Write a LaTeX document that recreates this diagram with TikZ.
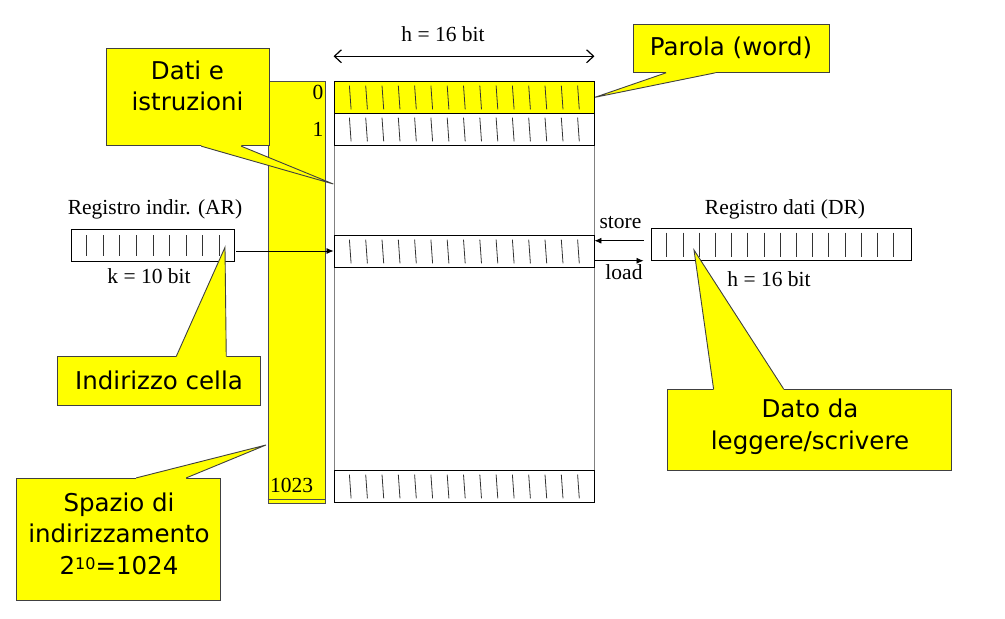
\documentclass[tikz,border=0pt]{standalone}
\usepackage{fontspec}
\setmainfont{Liberation Serif}
\newfontfamily\callfont{DejaVu Sans}
\usetikzlibrary{calc,arrows.meta}
\definecolor{cyel}{RGB}{255,255,0}
\newcommand\calloutptr[4]{%
  \fill[cyel] ($(#1.south west)+(#2,-1.5)$) -- ($(#1.south west)+(#2,0)$) -- (#4) -- ($(#1.south west)+(#3,0)$) -- ($(#1.south west)+(#3,-1.5)$) -- cycle;
  \draw[ptr] ($(#1.south west)+(#2,0)$) -- (#4) -- ($(#1.south west)+(#3,0)$);}
\newcommand\calloutptrup[4]{%
  \fill[cyel] ($(#1.north west)+(#2,1.5)$) -- ($(#1.north west)+(#2,0)$) -- (#4) -- ($(#1.north west)+(#3,0)$) -- ($(#1.north west)+(#3,1.5)$) -- cycle;
  \draw[ptr] ($(#1.north west)+(#2,0)$) -- (#4) -- ($(#1.north west)+(#3,0)$);}
\begin{document}
\begin{tikzpicture}[x=1pt,y=-1pt,
  reg/.style={draw=black, line width=0.9pt, inner sep=0pt, minimum height=32pt},
  tick/.style={black!80, line width=0.8pt},
  lab/.style={font=\fontsize{21.5}{24}\selectfont, inner sep=0pt},
  callout/.style={fill=cyel, draw=black!75, line width=0.9pt, inner sep=0pt},
  ctext/.style={font=\callfont\fontsize{24.5}{31.6}\selectfont, align=center, inner sep=0pt},
  ptr/.style={draw=black!75, line width=0.9pt, line join=miter},
  arr/.style={line width=0.8pt, -{Latex[length=7pt,width=6pt]}},
  barb/.style={line width=1.2pt, {Straight Barb[length=7pt,width=13pt]}-{Straight Barb[length=7pt,width=13pt]}},
]
\useasboundingbox (0,0) rectangle (1005,619);

% memory
\node[draw=black!50, line width=0.9pt, minimum width=260pt, minimum height=421pt, inner sep=0pt] (mem) at (464,291.5) {};
\node[reg, fill=cyel, minimum width=260pt] (r0) at (464,97) {};
\node[reg, minimum width=260pt] (r1) at (464,129) {};
\node[reg, minimum width=260pt] (rm) at (464,251) {};
\node[reg, minimum width=260pt] (rl) at (464,486) {};
\foreach \r in {r0,r1,rm,rl}{
  \foreach \i in {0,...,14}{
    \draw[tick] ($(\r.north west)+({16.7+\i*16.3-0.85},5)$) -- ($(\r.south west)+({16.7+\i*16.3+0.85},-4)$);
  }
}
\draw[barb] ($(mem.north west)+(0,-24.3)$) -- ($(mem.north east)+(0,-24.3)$);
\node[lab, anchor=base] (hw) at (443,41) {h = 16 bit};

% address column
\node[fill=cyel, draw=black!70, line width=0.9pt, minimum width=57pt, minimum height=422pt, inner sep=0pt] (col) at (296.5,292) {};
\draw[black!70, line width=0.9pt] ($(col.south west)+(0,-4)$) -- ($(col.south east)+(0,-4)$);
\node[lab, anchor=base east] (a0) at (323.5,99.3) {0};
\node[lab, anchor=base east] (a1) at (323.5,136.7) {1};
\node[lab, anchor=base west] (a2) at (270,492.7) {1023};

% address register
\node[reg, minimum width=163pt] (ar) at (152.5,245.5) {};
\foreach \i in {0,...,8}{
  \draw[tick] ($(ar.north west)+({16+\i*16.6},6)$) -- ($(ar.south west)+({16+\i*16.6},-6)$);
}
\node[lab, anchor=base] (arl) at (155,214) {Registro indir. (AR)};
\node[lab, anchor=base] (ark) at (149,283) {k = 10 bit};
\draw[arr] ($(ar.east|-rm.west)+(2,0)$) -- (rm.west);

% data register
\node[reg, minimum width=260pt] (dr) at (781,244.6) {};
\foreach \i in {0,...,14}{
  \draw[tick] ($(dr.north west)+({16.3+\i*16.2},4.5)$) -- ($(dr.south west)+({16.3+\i*16.2},-4)$);
}
\node[lab, anchor=base] (drl) at (785,214) {Registro dati (DR)};
\node[lab, anchor=base] (drh) at (769,286) {h = 16 bit};
\draw[arr] ($(dr.west|-rm.east)+(-7,-10.3)$) -- ($(rm.east)+(0,-10.3)$);
\draw[arr] ($(rm.east)+(1,9.7)$) -- ($(dr.west|-rm.east)+(-7,9.7)$);
\node[lab, anchor=base] (st) at (620.5,228.5) {store};
\node[lab, anchor=base] (ld) at (624,279.5) {load};

% callouts
\node[callout, minimum width=163pt, minimum height=97.5pt] (cd) at (187.5,97) {};
\coordinate (cdtip) at (333.3,184);
\calloutptr{cd}{95.7}{135.7}{cdtip}
\node[ctext] (cdt) at (187.5,86) {Dati e\\istruzioni};

\node[callout, minimum width=195.3pt, minimum height=48.3pt] (cp) at (731.5,48.2) {};
\coordinate (cptip) at (595,97.3);
\calloutptr{cp}{32.7}{82}{cptip}
\node[ctext] (cpt) at (731,48) {Parola (word)};

\node[callout, minimum width=203.4pt, minimum height=48.3pt] (ci) at (159,381) {};
\coordinate (citip) at (225,247.3);
\calloutptrup{ci}{119.4}{169.4}{citip}
\node[ctext] (cit) at (159,380) {Indirizzo cella};

\node[callout, minimum width=284.4pt, minimum height=80.7pt] (cdd) at (809.5,429.6) {};
\coordinate (cddtip) at (694,250);
\calloutptrup{cdd}{46.7}{116.7}{cddtip}
\node[ctext] (cddt) at (810,427) {Dato da\\leggere/scrivere};

\node[callout, minimum width=203.3pt, minimum height=121.7pt] (cs) at (118.3,539.2) {};
\coordinate (cstip) at (266,445);
\calloutptrup{cs}{120}{170}{cstip}
\node[ctext] (cst) at (119,533.5) {Spazio di\\indirizzamento\\2\raisebox{5pt}{\fontsize{16}{16}\selectfont 10}=1024};
\end{tikzpicture}
\end{document}
